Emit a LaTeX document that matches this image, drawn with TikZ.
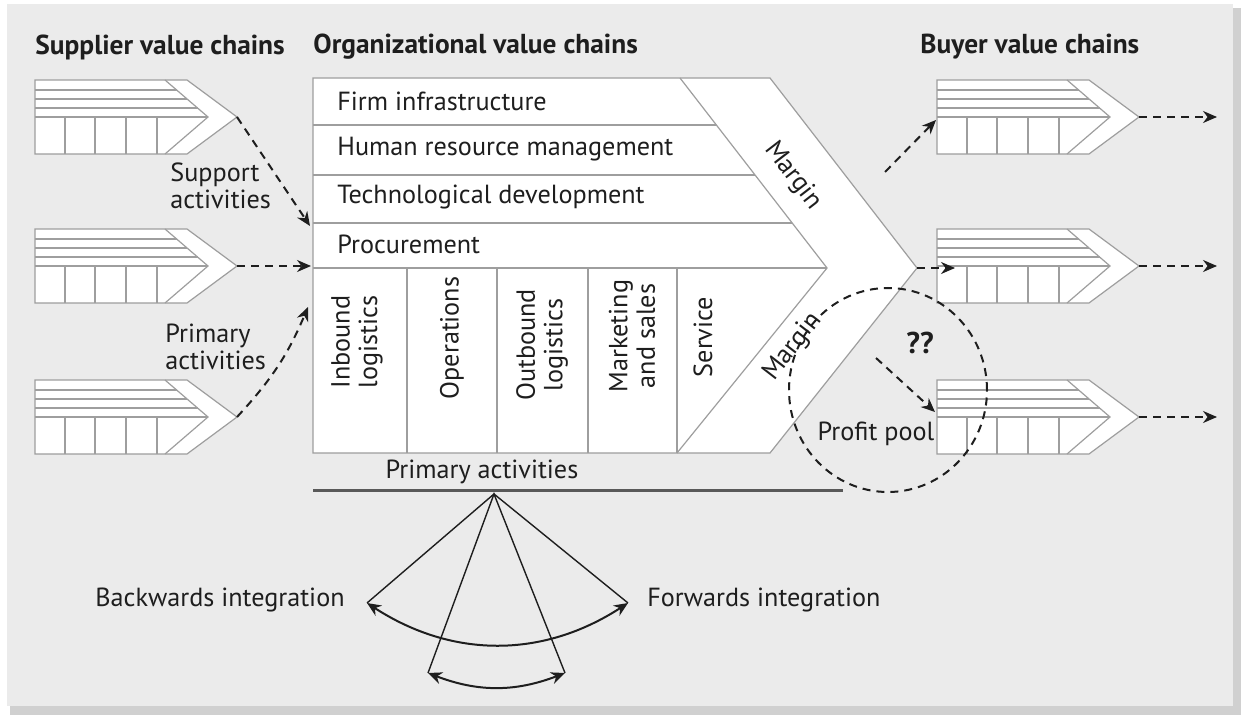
\documentclass[tikz,border=0pt]{standalone}
\usepackage{fontspec}
\setmainfont{PT Sans}
\usetikzlibrary{arrows.meta}

\definecolor{panelgray}{HTML}{EBEBEB}
\definecolor{shadowgray}{HTML}{D0D0D0}
\definecolor{linegray}{HTML}{9E9E9E}
\definecolor{ink}{HTML}{1E1E1E}

% small value chain with its top left corner at (#1,#2), tip named #3
\newcommand{\minichain}[3]{%
  \begin{scope}[shift={(#1,#2)}]
    \draw[chainline, fill=white] (0,0) -- (152,0) -- (202,37) -- (152,74) -- (0,74) -- cycle;
    \draw[chainline] (130,0) -- (173,37) -- (130,74);
    \draw[chainline] (0,10) -- (141.6,10) (0,19) -- (152,19) (0,28) -- (162.5,28) (0,37) -- (173,37);
    \foreach \x in {30,60,91,122}
      \draw[chainline] (\x,37) -- (\x,74);
    \coordinate (#3) at (202,37);
  \end{scope}}

\begin{document}
\begin{tikzpicture}[x=0.5pt, y=-0.5pt,
    chainline/.style={draw=linegray, line width=0.6pt},
    flowarrow/.style={draw=ink, dash pattern=on 4pt off 3pt, line width=1pt, -{Stealth[length=7pt,width=6pt]}},
    lbl/.style={font=\fontsize{13.1}{13.8}\selectfont, text=ink, inner sep=0pt},
    head/.style={lbl, font=\fontsize{13.7}{15}\selectfont\bfseries},
    fanline/.style={draw=ink, line width=0.7pt},
    fanarc/.style={draw=ink, line width=1pt, {Stealth[length=7pt,width=6pt]}-{Stealth[length=7pt,width=6pt]}}]

  % panel with its shadow
  \useasboundingbox (0,0) rectangle (1241,715);
  \fill[shadowgray] (10,8) rectangle (1241,715);
  \fill[panelgray] (7,4) rectangle (1233,706);

  % the organisation's value chain
  \draw[chainline, fill=white] (313,78) -- (770,78) -- (917,268) -- (770,453) -- (313,453) -- cycle;
  \draw[chainline] (680,78) -- (827,268) -- (677,453);
  \draw[chainline] (313,125) -- (716.4,125) (313,175) -- (755,175) (313,223) -- (792.2,223) (313,268) -- (827,268);
  \foreach \x in {407,497,588,677}
    \draw[chainline] (\x,268) -- (\x,453);
  \coordinate (orgtip) at (917,268);

  \node[lbl, anchor=west] (infra) at (337,101) {Firm infrastructure};
  \node[lbl, anchor=west] (hrm) at (337,149) {Human resource management};
  \node[lbl, anchor=west] (techdev) at (337,197) {Technological development};
  \node[lbl, anchor=west] (procure) at (337,244) {Procurement};

  \node[lbl, rotate=90, align=center] (inbound) at (357,342) {Inbound\\logistics};
  \node[lbl, rotate=90, align=center] (operations) at (452,338) {Operations};
  \node[lbl, rotate=90, align=center] (outbound) at (542,345) {Outbound\\logistics};
  \node[lbl, rotate=90, align=center] (marketing) at (632,336) {Marketing\\and sales};
  \node[lbl, rotate=90, align=center] (service) at (703,337) {Service};

  \node[lbl, rotate=-52.3] (margintop) at (793,176) {Margin};
  \node[lbl, rotate=52.3] (marginbot) at (793,347) {Margin};

  % supplier and buyer chains
  \minichain{35}{80}{sup1}
  \minichain{35}{229}{sup2}
  \minichain{35}{380}{sup3}
  \minichain{937}{80}{buy1}
  \minichain{937}{229}{buy2}
  \minichain{937}{380}{buy3}

  \node[head, anchor=west] (suphead) at (35,47) {Supplier value chains};
  \node[head, anchor=west] (orghead) at (313,47) {Organizational value chains};
  \node[head, anchor=west] (buyhead) at (920,47) {Buyer value chains};

  \node[lbl, anchor=west, align=left] (supportlbl) at (170,186) {Support\\activities};
  \node[lbl, anchor=west, align=left] (primarylbl) at (165,347) {Primary\\activities};

  % links into and out of the organisation
  \coordinate (in1) at (310,226);
  \coordinate (in2) at (311,266);
  \coordinate (in3) at (308,307);
  \draw[flowarrow] (sup1) -- (in1);
  \draw[flowarrow] (sup2) -- (in2);
  \draw[flowarrow] (sup3) to[bend right=10] (in3);

  \coordinate (out1a) at (885,172);
  \coordinate (out1b) at (936,120);
  \coordinate (out2) at (955,268);
  \coordinate (out3a) at (876,358);
  \coordinate (out3b) at (935,412);
  \draw[flowarrow] (out1a) -- (out1b);
  \draw[flowarrow] (orgtip) -- (out2);
  \draw[flowarrow] (out3a) -- (out3b);

  \foreach \b in {buy1,buy2,buy3}
    \draw[flowarrow] (\b) -- ++(78,0);

  % profit pool
  \node[head, font=\fontsize{15}{16}\selectfont\bfseries] (query) at (920,343) {??};
  \node[lbl] (pool) at (876,434) {Profit pool};
  \draw[draw=ink, dash pattern=on 4pt off 3pt, line width=1pt] (888,390) circle [x radius=49.5pt, y radius=51pt];

  % primary activities and integration
  \node[lbl] (primary) at (482,472) {Primary activities};
  \draw[draw=gray!70!black, line width=1.5pt] (313,491) -- (843,491);

  \coordinate (apex) at (494,494);
  \coordinate (backend) at (367,603);
  \coordinate (backin) at (428,673);
  \coordinate (forin) at (565,673);
  \coordinate (forend) at (628,603);
  \draw[fanline] (backend) -- (apex) -- (forend);
  \draw[fanline] (backin) -- (apex) -- (forin);
  \draw[fanarc] (backend) to[bend right=33] (forend);
  \draw[fanarc] (backin) to[bend right=21] (forin);

  \node[lbl, anchor=east] (backward) at (345,600) {Backwards integration};
  \node[lbl, anchor=west] (forward) at (647,600) {Forwards integration};
\end{tikzpicture}
\end{document}
